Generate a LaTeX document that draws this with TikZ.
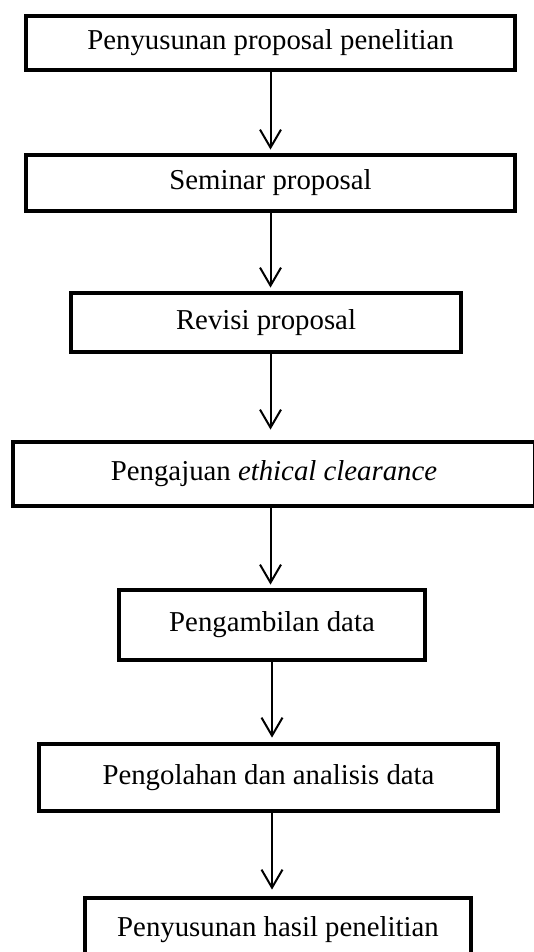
\documentclass[tikz,border=0pt]{standalone}
\usepackage{fontspec}
\setmainfont{Liberation Serif}
\usetikzlibrary{arrows.meta}

\begin{document}
\begin{tikzpicture}[x=0.5pt,y=-0.5pt,
    stepbox/.style={draw,line width=2.4pt,inner sep=0pt,font=\fontsize{14.4}{17}\selectfont},
    flow/.style={-{Straight Barb[length=9pt,width=10.5pt]},line width=1pt}]
    \clip (0,0) rectangle (534,952);
    \node[stepbox,minimum width=244.5pt,minimum height=27pt] (susun) at (270.5,43) {Penyusunan proposal penelitian};
    \node[stepbox,minimum width=244.5pt,minimum height=28pt] (seminar) at (270.5,183) {Seminar proposal};
    \node[stepbox,minimum width=195pt,minimum height=29.5pt] (revisi) at (266,322.5) {Revisi proposal};
    \node[stepbox,minimum width=261pt,minimum height=32pt] (ethic) at (274,474) {Pengajuan \textit{ethical clearance}};
    \node[stepbox,minimum width=153pt,minimum height=35pt] (ambil) at (272,625) {Pengambilan data};
    \node[stepbox,minimum width=229.5pt,minimum height=33.5pt] (olah) at (268.5,777.5) {Pengolahan dan analisis data};
    \node[stepbox,minimum width=193pt,minimum height=32pt] (hasil) at (278,930) {Penyusunan hasil penelitian};
    \draw[flow,shorten >=1.5pt] (susun.south) -- (seminar.north);
    \draw[flow,shorten >=1.5pt] (seminar.south) -- (revisi.north -| seminar.south);
    \draw[flow,shorten >=5pt] (revisi.south -| seminar.south) -- (ethic.north -| seminar.south);
    \draw[flow,shorten >=1.5pt] (ethic.south -| seminar.south) -- (ambil.north -| seminar.south);
    \draw[flow,shorten >=2pt] (ambil.south) -- (olah.north -| ambil.south);
    \draw[flow,shorten >=3pt] (olah.south -| ambil.south) -- (hasil.north -| ambil.south);
\end{tikzpicture}
\end{document}
